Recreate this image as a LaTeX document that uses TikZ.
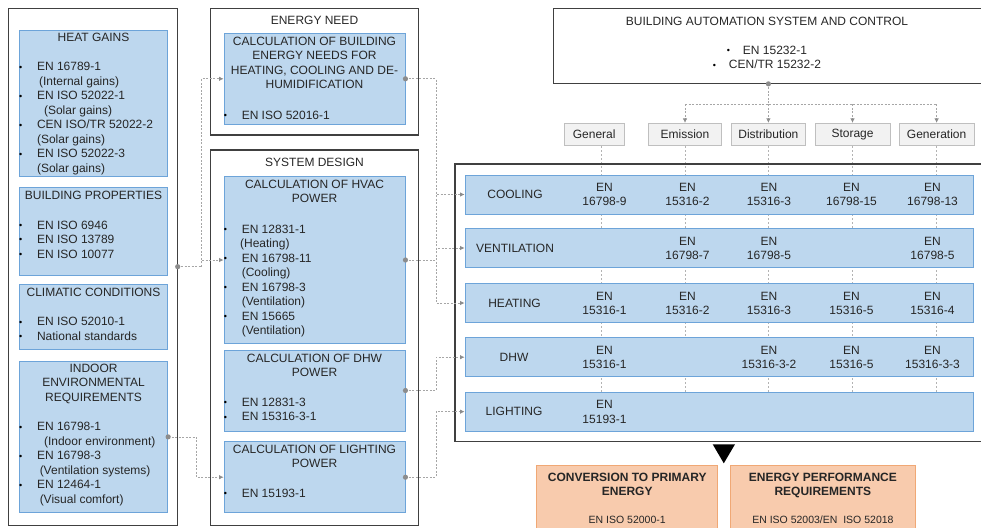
\documentclass[tikz,border=0pt]{standalone}
\usepackage{fontspec}
\setmainfont{Liberation Sans}
\usetikzlibrary{arrows.meta,fit,backgrounds}

\definecolor{txtc}{HTML}{262626}
\definecolor{boxline}{HTML}{404040}
\definecolor{bluefill}{HTML}{BDD7EE}
\definecolor{blueline}{HTML}{6DA4D9}
\definecolor{catfill}{HTML}{F2F2F2}
\definecolor{catline}{HTML}{BFBFBF}
\definecolor{orfill}{HTML}{F8CBAD}
\definecolor{orline}{HTML}{F0A875}
\definecolor{conncol}{HTML}{A6A6A6}
\definecolor{dotcol}{HTML}{8C8C8C}
\definecolor{guidecol}{HTML}{B3B3B3}

\newcommand{\fsz}{\fontsize{12}{14.5}\selectfont}
\newcommand{\fsm}{\fontsize{10.5}{12.5}\selectfont}
\newcommand{\stdbul}{\raisebox{0.6pt}{\fontsize{9}{9}\selectfont\textcolor{black}{\textbullet}}}
\newcommand{\stditem}[1]{\makebox[18pt][l]{\stdbul}#1}
\newcommand{\contline}[2][0pt]{\hspace*{\dimexpr18pt+#1\relax}#2}
\newcommand{\basitem}[1]{\makebox[16pt][l]{\stdbul}#1}

\tikzset{
  outerbox/.style={draw=boxline, line width=1.1pt, inner sep=0pt},
  bluebox/.style={draw=blueline, fill=bluefill, line width=0.9pt, inner sep=0pt},
  catbox/.style={draw=catline, fill=catfill, line width=0.8pt, minimum height=22.4pt,
    inner sep=0pt, font=\fsz, text=txtc},
  orbox/.style={draw=orline, fill=orfill, line width=0.9pt, inner sep=0pt},
  ttl/.style={font=\fsz, text=txtc, inner sep=0pt, align=center},
  lst/.style={font=\fsz, text=txtc, inner sep=0pt, align=left, anchor=north west},
  cell/.style={font=\fsz, text=txtc, inner sep=0pt, align=center},
  conn/.style={draw=conncol, line width=0.7pt, dash pattern=on 2pt off 1.5pt},
  arr/.style={-{Latex[length=4.5pt,width=4.5pt,color=dotcol]}},
  guide/.style={draw=guidecol, line width=0.6pt, dash pattern=on 2pt off 2pt},
}

\begin{document}
\begin{tikzpicture}[x=1pt,y=-1pt]
\useasboundingbox (0,0) rectangle (981,527);
\clip (0,0) rectangle (981,527);

% input data column
\node[outerbox, fit={(8.3,8.3) (177.7,525.7)}] (lft) {};
\node[bluebox, fit={(19.3,30) (167.7,176.7)}] (hg) {};
\node[ttl, anchor=north] (hgT) at ([yshift=-1.65pt]hg.north) {\strut HEAT GAINS};
\node[lst] (hgL) at ([yshift=-30.85pt]hg.north west) {\strut\stditem{EN 16789-1}\\
  \contline[2pt]{(Internal gains)}\\ \stditem{EN ISO 52022-1}\\ \contline[7pt]{(Solar gains)}\\
  \stditem{CEN ISO/TR 52022-2}\\ \contline{(Solar gains)}\\ \stditem{EN ISO 52022-3}\\
  \contline{(Solar gains)}};
\node[bluebox, fit={(19.3,187.7) (167.7,275)}] (bp) {};
\node[ttl, anchor=north] (bpT) at ([yshift=-1.45pt]bp.north) {\strut BUILDING PROPERTIES};
\node[lst] (bpL) at ([yshift=-31.45pt]bp.north west) {\strut\stditem{EN ISO 6946}\\
  \stditem{EN ISO 13789}\\ \stditem{EN ISO 10077}};
\node[bluebox, fit={(19.3,284.3) (167.7,349.3)}] (cc) {};
\node[ttl, anchor=north] (ccT) at ([yshift=-1.85pt]cc.north) {\strut CLIMATIC CONDITIONS};
\node[lst] (ccL) at ([yshift=-31.55pt]cc.north west) {\strut\stditem{EN ISO 52010-1}\\
  \stditem{National standards}};
\node[bluebox, fit={(19.3,361) (167.7,512.7)}] (ie) {};
\node[ttl, anchor=north] (ieT) at ([yshift=-1.15pt]ie.north) {\strut INDOOR\\ENVIRONMENTAL\\REQUIREMENTS};
\node[lst] (ieL) at ([yshift=-59.85pt]ie.north west) {\strut\stditem{EN 16798-1}\\
  \contline[7pt]{(Indoor environment)}\\ \stditem{EN 16798-3}\\
  \contline[2.7pt]{(Ventilation systems)}\\ \stditem{EN 12464-1}\\
  \contline[2.7pt]{(Visual comfort)}};

% energy need and system design
\node[outerbox, fit={(210.7,8.3) (418.3,135)}] (en) {};
\node[ttl, anchor=north] (enT) at ([yshift=-6.55pt]en.north) {\strut ENERGY NEED};
\node[bluebox, fit={(224,33.3) (405,124.3)}] (enc) {};
\node[ttl, anchor=north] (encT) at ([yshift=-1.85pt]enc.north) {\strut CALCULATION OF BUILDING\\
  ENERGY NEEDS FOR\\HEATING, COOLING AND DE-\\HUMIDIFICATION};
\node[lst] (encL) at ([yshift=-75.85pt]enc.north west) {\strut\stditem{EN ISO 52016-1}};
\node[outerbox, fit={(210.7,150) (418.3,525.7)}] (sd) {};
\node[ttl, anchor=north] (sdT) at ([yshift=-6.45pt]sd.north) {\strut SYSTEM DESIGN};
\node[bluebox, fit={(224,176.7) (405,343.3)}] (hv) {};
\node[ttl, anchor=north] (hvT) at ([yshift=-1.45pt]hv.north) {\strut CALCULATION OF HVAC\\POWER};
\node[lst] (hvL) at ([yshift=-46.45pt]hv.north west) {\strut\stditem{EN 12831-1}\\
  \contline[-1.6pt]{(Heating)}\\ \stditem{EN 16798-11}\\ \contline{(Cooling)}\\
  \stditem{EN 16798-3}\\ \contline{(Ventilation)}\\ \stditem{EN 15665}\\ \contline{(Ventilation)}};
\node[bluebox, fit={(224,350) (405,431)}] (dh) {};
\node[ttl, anchor=north] (dhT) at ([yshift=-2.45pt]dh.north) {\strut CALCULATION OF DHW\\POWER};
\node[lst] (dhL) at ([yshift=-46.45pt]dh.north west) {\strut\stditem{EN 12831-3}\\
  \stditem{EN 15316-3-1}};
\node[bluebox, fit={(224,441.7) (405,512.7)}] (lg) {};
\node[ttl, anchor=north] (lgT) at ([yshift=-1.75pt]lg.north) {\strut CALCULATION OF LIGHTING\\POWER};
\node[lst] (lgL) at ([yshift=-45.75pt]lg.north west) {\strut\stditem{EN 15193-1}};

% automation and categories
\node[outerbox, fit={(553.3,8.3) (983.5,83.3)}] (bas) {};
\node[ttl, anchor=north] (basT) at (767,14.85) {\strut BUILDING AUTOMATION SYSTEM AND CONTROL\\[14.5pt]
  \basitem{EN 15232-1}\\ \basitem{CEN/TR 15232-2}};
\node[catbox, minimum width=59.7pt] (cgen) at (594.2,134.5) {General};
\node[catbox, minimum width=73.4pt] (cemi) at (685,134.5) {Emission};
\node[catbox, minimum width=73.4pt] (cdis) at (768.4,134.5) {Distribution};
\node[catbox, minimum width=75pt] (csto) at (852.5,134.5) {Storage};
\node[catbox, minimum width=75pt] (cgnr) at (936.6,134.5) {Generation};

% services table
\node[outerbox, fit={(455,164) (985,441.7)}] (rbox) {};
\node[bluebox, fit={(465,175) (973.3,214)}] (rcool) {};
\node[bluebox, fit={(465,228.3) (973.3,267.7)}] (rvent) {};
\node[bluebox, fit={(465,283.3) (973.3,322.7)}] (rheat) {};
\node[bluebox, fit={(465,337.7) (973.3,376.7)}] (rdhw) {};
\node[bluebox, fit={(465,392.3) (973.3,431)}] (rlgt) {};
\node[ttl] (lcool) at ([xshift=50.5pt]rcool.west) {COOLING};
\node[ttl] (lvent) at ([xshift=50.5pt]rvent.west) {VENTILATION};
\node[ttl] (lheat) at ([xshift=50pt]rheat.west) {HEATING};
\node[ttl] (ldhw) at ([xshift=49.5pt]rdhw.west) {DHW};
\node[ttl] (llgt) at ([xshift=49.5pt]rlgt.west) {LIGHTING};
\foreach \x/\nm [count=\idx] in {604.5/16798-9, 687.5/15316-2, 769/15316-3, 851.5/16798-15, 932.5/16798-13}
  \node[cell] (cool\idx) at (\x,194.6) {EN\\\nm};
\foreach \x/\nm [count=\idx] in {687.5/16798-7, 769/16798-5, 932.5/16798-5}
  \node[cell] (vent\idx) at (\x,248.2) {EN\\\nm};
\foreach \x/\nm [count=\idx] in {604.5/15316-1, 687.5/15316-2, 769/15316-3, 851.5/15316-5, 932.5/15316-4}
  \node[cell] (heat\idx) at (\x,303.2) {EN\\\nm};
\foreach \x/\nm [count=\idx] in {604.5/15316-1, 769/15316-3-2, 851.5/15316-5, 932.5/15316-3-3}
  \node[cell] (dhw\idx) at (\x,357.5) {EN\\\nm};
\node[cell] (lgt1) at (604.5,411.9) {EN\\15193-1};

% column guides behind the rows
\begin{scope}[on background layer]
\coordinate (gcol) at ([xshift=7.5pt]cgen.south);
\draw[guide] (gcol) -- (gcol |- rlgt.north);
\foreach \cat in {cemi,cdis,csto,cgnr}
  \draw[guide] (\cat.south) -- (\cat.south |- rlgt.north);
\end{scope}

% connectors
\coordinate (bpdot) at (177.7,266.7);
\coordinate (busl) at (201.7,266.7);
\draw[conn] (bpdot) -- (busl);
\draw[conn, arr] (busl) |- (enc.west);
\draw[conn, arr] (busl) |- (hv.west);
\draw[conn, arr] (ie.east) -- ++(28.3,0) |- (lg.west);
\draw[conn, arr] (enc.east) -- ++(30.7,0) |- (rheat.west);
\draw[conn] (hv.east) -- ++(30.7,0) coordinate (busr);
\draw[conn, arr] (busr) |- (rcool.west);
\draw[conn, arr] (busr) |- (rvent.west);
\draw[conn, arr] (dh.east) -- ++(30.7,0) |- (rdhw.west);
\draw[conn, arr] (lg.east) -- ++(30.7,0) |- (rlgt.west);
\draw[conn] (bas.south) -- ++(0,20.4) coordinate (basb);
\draw[conn] (basb -| cemi.north) -- (basb -| cgnr.north);
\foreach \cat in {cemi,cdis,csto,cgnr}
  \draw[conn, arr] (basb -| \cat.north) -- (\cat.north);
\foreach \p in {bpdot,ie.east,enc.east,hv.east,dh.east,lg.east,bas.south}
  \fill[dotcol] (\p) circle (2.6pt);

% results
\fill[black] (712.7,444.3) -- (735,444.3) -- (723.8,463.3) -- cycle;
\node[orbox, fit={(536.7,465.7) (717.7,540)}] (conv) {};
\node[orbox, fit={(730,465.7) (915.7,540)}] (epr) {};
\node[ttl, font=\fsz\bfseries, anchor=north] (convT) at ([yshift=-5.75pt]conv.north) {\strut CONVERSION TO PRIMARY\\ENERGY};
\node[ttl, font=\fsm] (convS) at (627.2,520) {EN ISO 52000-1};
\node[ttl, font=\fsz\bfseries, anchor=north] (eprT) at ([yshift=-5.75pt]epr.north) {\strut ENERGY PERFORMANCE\\REQUIREMENTS};
\node[ttl, font=\fsm] (eprS) at (822.9,520) {EN ISO 52003/EN\ \ ISO 52018};
\end{tikzpicture}
\end{document}
